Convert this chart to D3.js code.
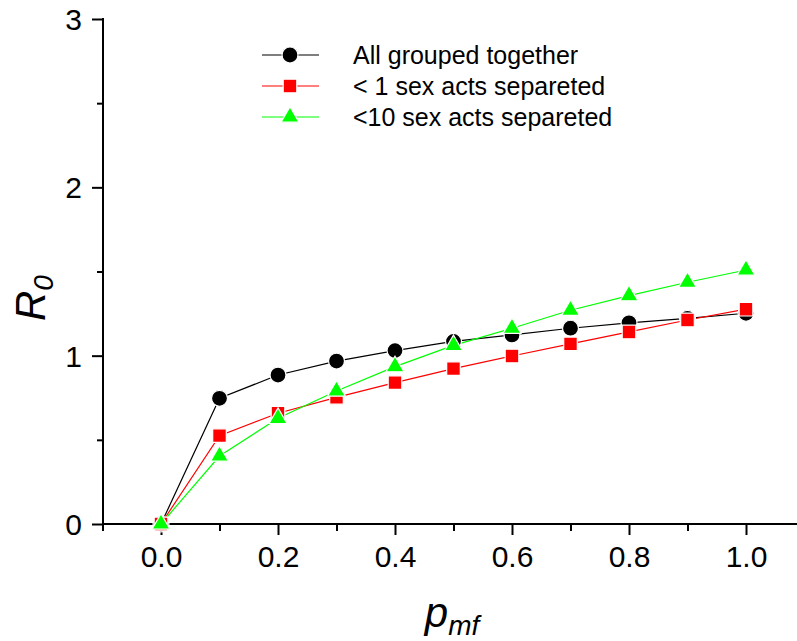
<!DOCTYPE html>
<html>
<head>
<meta charset="utf-8">
<script src="https://cdn.jsdelivr.net/npm/d3@7"></script>
<style>
  body { margin: 0; background: #fff; }
  svg { display: block; font-family: Arial, "Liberation Sans", sans-serif; }
</style>
</head>
<body>
<svg id="chart" width="797" height="641"></svg>
<script>
const pmf = [0.0, 0.1, 0.2, 0.3, 0.4, 0.5, 0.6, 0.7, 0.8, 0.9, 1.0];
const allGrouped = [0.0, 0.747, 0.885, 0.968, 1.03, 1.085, 1.123, 1.163, 1.195, 1.222, 1.252];
const lt1Separated = [0.0, 0.525, 0.658, 0.752, 0.84, 0.923, 0.998, 1.07, 1.141, 1.212, 1.276];
const lt10Separated = [0.0, 0.404, 0.628, 0.79, 0.935, 1.061, 1.163, 1.27, 1.357, 1.436, 1.509];
const seriesNames = ["All grouped together", "< 1 sex acts separeted", "<10 sex acts separeted"];
const xMajorTicks = [0.0, 0.2, 0.4, 0.6, 0.8, 1.0];
const xMinorTicks = [-0.1, 0.1, 0.3, 0.5, 0.7, 0.9];
const yMajorTicks = [0, 1, 2, 3];
const yMinorTicks = [0.5, 1.5, 2.5];

(function () {
const svg = d3.select("#chart");
const mLeft = 103, mTop = 19, mBottom = 524;
const x = d3.scaleLinear().domain([-0.1, 1.1]).range([102.5, 804.5]);
const y = d3.scaleLinear().domain([0, 3]).range([mBottom, mTop]);

const series = [
  { name: seriesNames[0], values: allGrouped, color: "#000000", shape: d3.symbolCircle, size: 200 },
  { name: seriesNames[1], values: lt1Separated, color: "#ff0000", shape: d3.symbolSquare, size: 185 },
  { name: seriesNames[2], values: lt10Separated, color: "#00ff00", shape: d3.symbolTriangle, size: 140 }
];

const fmt = d3.format(".1f");
const xAxis = svg.append("g").attr("transform", `translate(0,${mBottom})`)
  .call(d3.axisBottom(x).tickValues(xMajorTicks).tickFormat(fmt).tickSize(11).tickSizeOuter(0).tickPadding(10));
const xMinor = svg.append("g").attr("transform", `translate(0,${mBottom})`)
  .call(d3.axisBottom(x).tickValues(xMinorTicks).tickFormat("").tickSize(7).tickSizeOuter(0));
const yAxis = svg.append("g").attr("transform", `translate(${mLeft},0)`)
  .call(d3.axisLeft(y).tickValues(yMajorTicks).tickFormat(d3.format("d")).tickSize(11).tickSizeOuter(0).tickPadding(10));
const yMinor = svg.append("g").attr("transform", `translate(${mLeft},0)`)
  .call(d3.axisLeft(y).tickValues(yMinorTicks).tickFormat("").tickSize(6).tickSizeOuter(0));

[xAxis, xMinor, yAxis, yMinor].forEach(g => {
  g.selectAll("path.domain").remove();
  g.selectAll(".tick line").attr("stroke", "#000").attr("stroke-width", 2);
  g.selectAll(".tick text").attr("fill", "#000").attr("font-size", 30).attr("font-family", "Arial, 'Liberation Sans', sans-serif");
});
xAxis.selectAll(".tick text").attr("dy", null).attr("y", 43);
yAxis.selectAll(".tick text").attr("dy", null).attr("y", 0).attr("dominant-baseline", "central");

svg.append("line").attr("x1", mLeft).attr("x2", 797).attr("y1", mBottom).attr("y2", mBottom)
  .attr("stroke", "#000").attr("stroke-width", 2);
svg.append("line").attr("x1", mLeft).attr("x2", mLeft).attr("y1", mTop - 1).attr("y2", mBottom + 1)
  .attr("stroke", "#000").attr("stroke-width", 2);

const yt = svg.append("text")
  .attr("transform", `translate(45,298) rotate(-90)`)
  .attr("text-anchor", "middle")
  .attr("font-size", 42).attr("font-style", "italic");
yt.append("tspan").text("R");
yt.append("tspan").text("0").attr("font-size", 28).attr("dy", 8);

const xt = svg.append("text")
  .attr("x", 452).attr("y", 627)
  .attr("text-anchor", "middle")
  .attr("font-size", 42).attr("font-style", "italic");
xt.append("tspan").text("p");
xt.append("tspan").text("mf").attr("font-size", 28).attr("dy", 8);

const line = d3.line().x((d, i) => x(pmf[i])).y(d => y(d));
series.forEach(s => {
  svg.append("path").datum(s.values)
    .attr("d", line).attr("fill", "none")
    .attr("stroke", s.color).attr("stroke-width", 1.2);
});
series.forEach(s => {
  svg.append("g").selectAll("path").data(s.values).join("path")
    .attr("transform", (d, i) => `translate(${x(pmf[i])},${y(d)})`)
    .attr("d", d3.symbol().type(s.shape).size(s.size))
    .attr("fill", s.color)
    .attr("stroke", "#fff").attr("stroke-width", 1.2);
});

const legendY = [55, 86, 117];
series.forEach((s, i) => {
  const g = svg.append("g").attr("transform", `translate(0,${legendY[i]})`);
  g.append("line").attr("x1", 262).attr("x2", 319).attr("y1", 0).attr("y2", 0)
    .attr("stroke", s.color).attr("stroke-width", 1.2);
  g.append("path").attr("transform", "translate(290,0)")
    .attr("d", d3.symbol().type(s.shape).size(s.size))
    .attr("fill", s.color).attr("stroke", "#fff").attr("stroke-width", 1.2);
  g.append("text").attr("x", 353).attr("y", 0).attr("dominant-baseline", "central")
    .attr("font-size", 25).attr("fill", "#000").text(s.name);
});
})();
</script>
</body>
</html>
